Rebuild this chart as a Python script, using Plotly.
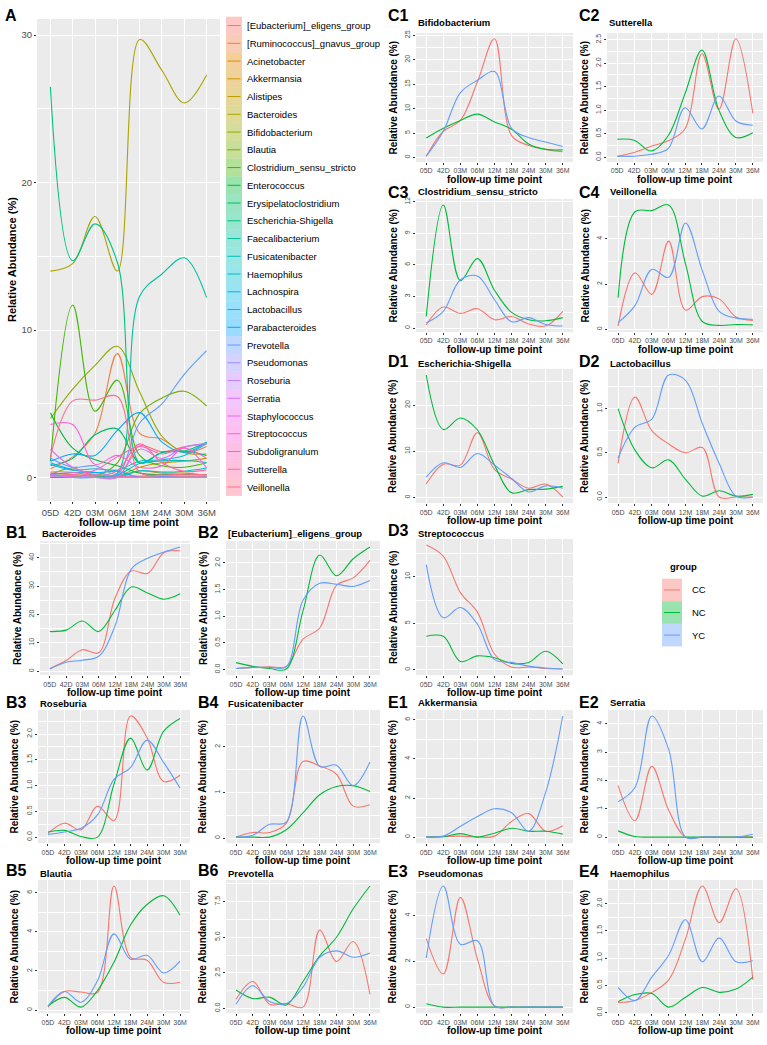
import math
import plotly.graph_objects as go

W, H = 767, 1045

# ---------------- data ----------------
time_full = ["05D", "42D", "03M", "06M", "12M", "18M", "24M", "30M", "36M"]
time_a = ["05D", "42D", "03M", "06M", "18M", "24M", "30M", "36M"]
groups = ["CC", "NC", "YC"]
group_colors = ["#F8766D", "#00BA38", "#619CFF"]

bacteroides_cc = [1.0, 3.8, 7.6, 6.5, 25.8, 35.3, 34.5, 41.8, 42.5]
bacteroides_nc = [14.0, 14.5, 17.7, 14.0, 21.5, 29.7, 27.6, 25.4, 27.3]
bacteroides_yc = [0.8, 3.2, 3.9, 5.3, 15.9, 36.0, 39.8, 42.0, 43.8]

eligens_cc = [0.02, 0.04, 0.05, 0.06, 0.57, 0.78, 1.58, 1.72, 2.05]
eligens_nc = [0.13, 0.06, 0.02, 0.01, 1.1, 2.15, 1.76, 2.08, 2.3]
eligens_yc = [0.02, 0.04, 0.04, 0.05, 1.3, 1.62, 1.6, 1.56, 1.67]

roseburia_cc = [0.07, 0.27, 0.14, 0.6, 0.32, 2.35, 1.93, 1.08, 1.2]
roseburia_nc = [0.1, 0.13, 0.01, 0.0, 1.03, 1.92, 1.3, 2.05, 2.3]
roseburia_yc = [0.05, 0.1, 0.17, 0.43, 1.12, 1.35, 1.88, 1.45, 0.95]

fusicatenibacter_cc = [0.02, 0.12, 0.12, 0.32, 1.68, 1.58, 1.4, 0.7, 0.73]
fusicatenibacter_nc = [0.02, 0.02, 0.02, 0.18, 0.55, 0.95, 1.13, 1.15, 1.02]
fusicatenibacter_yc = [0.02, 0.06, 0.3, 0.35, 2.68, 1.57, 1.6, 1.15, 1.67]

blautia_cc = [0.15, 0.95, 0.92, 0.9, 6.35, 2.7, 2.55, 1.42, 1.42]
blautia_nc = [0.2, 0.65, 0.15, 1.0, 2.45, 4.35, 5.4, 5.85, 4.85]
blautia_yc = [0.2, 0.95, 0.4, 1.5, 3.9, 2.6, 2.8, 1.9, 2.5]

prevotella_cc = [0.65, 1.9, 0.3, 0.35, 0.1, 5.5, 3.3, 4.7, 1.0]
prevotella_nc = [1.3, 0.7, 0.8, 0.25, 1.9, 3.7, 5.0, 7.0, 8.6]
prevotella_yc = [0.3, 1.6, 0.5, 0.35, 1.5, 3.6, 4.05, 3.6, 3.9]

bifido_cc = [0.3, 5.4, 7.6, 15.5, 24.3, 4.5, 2.5, 1.7, 1.2]
bifido_nc = [4.0, 6.0, 7.6, 8.9, 7.3, 5.8, 2.8, 1.7, 1.6]
bifido_yc = [0.3, 5.4, 13.3, 15.8, 17.6, 6.0, 4.1, 3.2, 2.3]

sutterella_cc = [0.02, 0.1, 0.23, 0.35, 0.6, 2.2, 1.02, 2.52, 0.93]
sutterella_nc = [0.38, 0.36, 0.13, 0.45, 1.35, 2.28, 1.0, 0.42, 0.52]
sutterella_yc = [0.02, 0.02, 0.06, 0.18, 1.05, 0.6, 1.3, 0.77, 0.68]

clostridium_cc = [0.3, 2.0, 1.4, 1.85, 0.8, 1.1, 0.4, 0.2, 1.6]
clostridium_nc = [1.1, 11.7, 4.5, 6.6, 3.6, 1.5, 0.8, 0.7, 1.0]
clostridium_yc = [0.5, 1.6, 4.6, 4.95, 2.7, 0.6, 1.0, 0.35, 0.2]

veillonella_cc = [0.15, 2.5, 1.55, 3.9, 0.85, 1.45, 1.35, 0.55, 0.4]
veillonella_nc = [1.4, 5.2, 5.25, 5.5, 2.9, 0.35, 0.18, 0.22, 0.2]
veillonella_yc = [0.3, 1.05, 2.65, 2.3, 4.7, 2.6, 0.8, 0.5, 0.45]

escherichia_cc = [2.9, 7.2, 7.0, 14.0, 6.0, 4.0, 2.0, 2.9, 0.1]
escherichia_nc = [26.5, 14.7, 17.2, 14.6, 7.0, 1.0, 1.7, 1.8, 2.4]
escherichia_yc = [4.4, 7.5, 6.5, 9.5, 7.0, 4.1, 1.2, 2.5, 2.0]

lactobacillus_cc = [0.38, 1.13, 0.75, 0.6, 0.5, 0.56, 0.0, 0.0, 0.0]
lactobacillus_nc = [1.0, 0.53, 0.33, 0.42, 0.2, 0.01, 0.07, 0.01, 0.03]
lactobacillus_yc = [0.44, 0.79, 0.88, 1.38, 1.32, 0.83, 0.38, 0.01, 0.0]

streptococcus_cc = [13.4, 12.2, 8.3, 6.2, 1.7, 0.3, 0.3, 0.15, 0.1]
streptococcus_nc = [3.6, 3.6, 0.9, 1.5, 1.3, 0.7, 0.8, 2.0, 0.65]
streptococcus_yc = [11.3, 5.6, 6.7, 4.9, 1.1, 0.8, 0.4, 0.2, 0.1]

akkermansia_cc = [0.02, 0.02, 0.05, 0.0, 0.05, 0.8, 1.2, 0.3, 0.58]
akkermansia_nc = [0.0, 0.02, 0.18, 0.0, 0.2, 0.45, 0.3, 0.3, 0.15]
akkermansia_yc = [0.02, 0.05, 0.55, 1.05, 1.45, 1.25, 0.3, 2.3, 6.2]

serratia_cc = [1.82, 0.58, 2.5, 0.95, 0.0, 0.0, 0.0, 0.0, 0.0]
serratia_nc = [0.22, 0.02, 0.0, 0.0, 0.0, 0.0, 0.0, 0.0, 0.0]
serratia_yc = [1.25, 1.75, 4.28, 3.1, 0.0, 0.0, 0.0, 0.0, 0.1]

pseudomonas_cc = [3.0, 1.45, 4.8, 2.1, 0.05, 0.0, 0.0, 0.0, 0.0]
pseudomonas_nc = [0.15, 0.0, 0.0, 0.0, 0.0, 0.0, 0.0, 0.0, 0.0]
pseudomonas_yc = [2.15, 5.3, 2.75, 2.9, 0.05, 0.0, 0.0, 0.0, 0.0]

haemophilus_cc = [0.18, 0.22, 0.37, 0.6, 1.35, 2.32, 1.65, 2.27, 0.6]
haemophilus_nc = [0.2, 0.33, 0.35, 0.1, 0.28, 0.46, 0.37, 0.43, 0.65]
haemophilus_yc = [0.46, 0.22, 0.65, 1.05, 1.7, 0.93, 1.37, 0.93, 0.95]

# panel A genera without their own panel (values at time_a)
ruminococcus_a = [0.6, 1.4, 3.0, 8.4, 3.0, 2.6, 1.7, 2.1]
acinetobacter_a = [0.3, 0.2, 0.1, 0.05, 0.05, 0.05, 0.05, 0.05]
alistipes_a = [0.0, 0.0, 0.02, 0.1, 0.7, 1.0, 1.1, 1.3]
enterococcus_a = [4.4, 2.0, 1.2, 0.8, 0.3, 0.2, 0.2, 0.2]
erysipelato_a = [0.8, 1.3, 2.9, 3.3, 1.0, 1.7, 1.8, 1.5]
faecalibacterium_a = [0.0, 0.0, 0.02, 0.3, 12.3, 13.8, 14.9, 12.2]
lachnospira_a = [0.9, 0.5, 0.6, 0.5, 1.1, 1.2, 1.5, 2.3]
parabacteroides_a = [1.1, 1.6, 1.5, 3.2, 4.4, 2.4, 1.7, 2.4]
staphylococcus_a = [1.9, 0.7, 0.2, 0.1, 0.1, 0.1, 0.1, 0.1]
subdoligranulum_a = [0.1, 0.2, 0.5, 1.4, 2.1, 1.6, 2.0, 1.3]

genera = ["[Eubacterium]_eligens_group", "[Ruminococcus]_gnavus_group", "Acinetobacter",
          "Akkermansia", "Alistipes", "Bacteroides", "Bifidobacterium", "Blautia",
          "Clostridium_sensu_stricto", "Enterococcus", "Erysipelatoclostridium",
          "Escherichia-Shigella", "Faecalibacterium", "Fusicatenibacter", "Haemophilus",
          "Lachnospira", "Lactobacillus", "Parabacteroides", "Prevotella", "Pseudomonas",
          "Roseburia", "Serratia", "Staphylococcus", "Streptococcus", "Subdoligranulum",
          "Sutterella", "Veillonella"]

# y tick labels per panel
ticks_40 = ["0", "10", "20", "30", "40"]
ticks_2_half = ["0.0", "0.5", "1.0", "1.5", "2.0"]
ticks_2_int = ["0", "1", "2"]
ticks_6 = ["0", "2", "4", "6"]
ticks_75 = ["0.0", "2.5", "5.0", "7.5"]
ticks_25 = ["0", "5", "10", "15", "20", "25"]
ticks_25_half = ["0.0", "0.5", "1.0", "1.5", "2.0", "2.5"]
ticks_12 = ["0", "3", "6", "9", "12"]
ticks_4_even = ["0", "2", "4"]
ticks_20 = ["0", "10", "20"]
ticks_1 = ["0.0", "0.5", "1.0"]
ticks_10 = ["0", "5", "10"]
ticks_4 = ["0", "1", "2", "3", "4"]
ticks_a = ["0", "10", "20", "30"]


# ---------------- helpers ----------------
def hcl_hex(h, c, l):
    hr = math.radians(h)
    u, v = c * math.cos(hr), c * math.sin(hr)
    Xn, Yn, Zn = 95.047, 100.0, 108.883
    den = Xn + 15 * Yn + 3 * Zn
    un, vn = 4 * Xn / den, 9 * Yn / den
    Y = Yn * ((l + 16) / 116) ** 3 if l > 8 else Yn * l / 903.3
    up = u / (13 * l) + un
    vp = v / (13 * l) + vn
    X = 9 * Y * up / (4 * vp)
    Z = (9 * Y / vp - X - 15 * Y) / 3
    X, Y, Z = X / 100, Y / 100, Z / 100
    rl = 3.240479 * X - 1.537150 * Y - 0.498535 * Z
    gl = -0.969256 * X + 1.875992 * Y + 0.041556 * Z
    bl = 0.055648 * X - 0.204043 * Y + 1.057311 * Z

    def g(t):
        t = 12.92 * t if t <= 0.0031308 else 1.055 * t ** (1 / 2.4) - 0.055
        return max(0, min(255, round(t * 255)))
    return "#%02X%02X%02X" % (g(rl), g(gl), g(bl))


def rgba(hx, a):
    return "rgba(%d,%d,%d,%.2f)" % (int(hx[1:3], 16), int(hx[3:5], 16), int(hx[5:7], 16), a)


n_gen = len(genera)
genus_colors = [hcl_hex(15 + i * 360 / n_gen, 100, 65) for i in range(n_gen)]

panel_nc = {
    "[Eubacterium]_eligens_group": eligens_nc, "Bacteroides": bacteroides_nc,
    "Bifidobacterium": bifido_nc, "Blautia": blautia_nc,
    "Clostridium_sensu_stricto": clostridium_nc, "Escherichia-Shigella": escherichia_nc,
    "Fusicatenibacter": fusicatenibacter_nc, "Haemophilus": haemophilus_nc,
    "Lactobacillus": lactobacillus_nc, "Prevotella": prevotella_nc,
    "Pseudomonas": pseudomonas_nc, "Roseburia": roseburia_nc, "Serratia": serratia_nc,
    "Streptococcus": streptococcus_nc, "Sutterella": sutterella_nc,
    "Veillonella": veillonella_nc, "Akkermansia": akkermansia_nc,
}
extra_a = {
    "[Ruminococcus]_gnavus_group": ruminococcus_a, "Acinetobacter": acinetobacter_a,
    "Alistipes": alistipes_a, "Enterococcus": enterococcus_a,
    "Erysipelatoclostridium": erysipelato_a, "Faecalibacterium": faecalibacterium_a,
    "Lachnospira": lachnospira_a, "Parabacteroides": parabacteroides_a,
    "Staphylococcus": staphylococcus_a, "Subdoligranulum": subdoligranulum_a,
}


def a_values(g):
    if g in panel_nc:
        v = panel_nc[g]
        return [v[i] for i, t in enumerate(time_full) if t in time_a]
    return extra_a[g]


FONT = "Liberation Sans, Arial, sans-serif"
fig = go.Figure()
annotations = []
shapes = []


def px_x(p):
    return p / W


def px_y(p):
    return 1 - p / H


def add_axes(k, box, cats, tick_labels, yrange, rot, tfont):
    l, t, r, b = box
    sx = "" if k == 1 else str(k)
    tv = [float(s) for s in tick_labels]
    step = tv[1] - tv[0]
    minors = [v + step / 2 for v in [tv[0] - step] + tv]
    fig.layout["xaxis" + sx] = dict(
        domain=[px_x(l), px_x(r)], anchor="y" + sx, type="category",
        categoryorder="array", categoryarray=cats, range=[-0.6, len(cats) - 0.4],
        tickmode="array", tickvals=cats, ticktext=cats, tickangle=0,
        showgrid=True, gridcolor="white", gridwidth=1.1, zeroline=False,
        ticks="outside", ticklen=2, tickwidth=0.8, tickcolor="#333333",
        tickfont=dict(family=FONT, size=tfont, color="#4D4D4D"), showline=False,
        fixedrange=True)
    fig.layout["yaxis" + sx] = dict(
        domain=[px_y(b), px_y(t)], anchor="x" + sx, range=yrange,
        tickmode="array", tickvals=tv, ticktext=tick_labels,
        showgrid=True, gridcolor="white", gridwidth=1.1, zeroline=False,
        minor=dict(tickmode="array", tickvals=minors, showgrid=True,
                   gridcolor="white", gridwidth=0.5, ticks=""),
        ticks="outside", ticklen=2, tickwidth=0.8, tickcolor="#333333",
        tickangle=-90 if rot else 0,
        tickfont=dict(family=FONT, size=tfont, color="#4D4D4D"), showline=False,
        fixedrange=True)
    return "x" + sx, "y" + sx


def yrange_of(series):
    allv = [v for s in series for v in s]
    lo, hi = min(allv), max(allv)
    span = hi - lo
    return [lo - 0.05 * span, hi + 0.05 * span]


# ---------------- panel A ----------------
boxA = (37, 16, 220, 501)
a_series = [a_values(g) for g in genera]
xa, ya = add_axes(1, boxA, time_a, ticks_a, [-1.6, 31.1], False, 9.5)
for g, col, vals in zip(genera, genus_colors, a_series):
    fig.add_trace(go.Scatter(x=time_a, y=vals, mode="lines", name=g,
                             line=dict(color=col, width=1.1, shape="spline", smoothing=1.0),
                             xaxis=xa, yaxis=ya, showlegend=False, hoverinfo="skip"))
annotations += [
    dict(x=px_x(3), y=px_y(13), text="<b>A</b>", xanchor="left", yanchor="middle",
         font=dict(size=16, color="black")),
    dict(x=px_x(12), y=px_y((boxA[1] + boxA[3]) / 2), text="<b>Relative Abundance (%)</b>",
         textangle=-90, xanchor="center", yanchor="middle", font=dict(size=11, color="black")),
    dict(x=px_x((boxA[0] + boxA[2]) / 2), y=px_y(boxA[3] + 21),
         text="<b>follow-up time point</b>", xanchor="center", yanchor="middle",
         font=dict(size=10.5, color="black")),
]
# legend for panel A (manual, ggplot-style keys)
leg_top, leg_step = 22.7, 17.85
for i, (g, col) in enumerate(zip(genera, genus_colors)):
    cy = leg_top + i * leg_step
    shapes.append(dict(type="rect", xref="paper", yref="paper",
                       x0=px_x(226), x1=px_x(242), y0=px_y(cy + leg_step / 2), y1=px_y(cy - leg_step / 2),
                       fillcolor=rgba(col, 0.4), line=dict(width=0)))
    shapes.append(dict(type="line", xref="paper", yref="paper",
                       x0=px_x(227.5), x1=px_x(240.5), y0=px_y(cy), y1=px_y(cy),
                       line=dict(color=col, width=1)))
    annotations.append(dict(x=px_x(245), y=px_y(cy), text=g, xanchor="left", yanchor="middle",
                            font=dict(size=9.5, color="black")))

# ---------------- small panels ----------------
C3L, C4L = 4, 196
C3R, C4R = 386, 577
panels = [
    # label, title, series, ticks, box, label_x, label_y, title_y
    ("B1", "Bacteroides", [bacteroides_cc, bacteroides_nc, bacteroides_yc], ticks_40, (40, 541, 190, 676), C3L, 533, 534),
    ("B2", "[Eubacterium]_eligens_group", [eligens_cc, eligens_nc, eligens_yc], ticks_2_half, (226, 541, 380, 676), C4L, 533, 534),
    ("B3", "Roseburia", [roseburia_cc, roseburia_nc, roseburia_yc], ticks_2_half, (38, 711, 190, 845), C3L, 704, 705),
    ("B4", "Fusicatenibacter", [fusicatenibacter_cc, fusicatenibacter_nc, fusicatenibacter_yc], ticks_2_int, (226, 711, 380, 845), C4L, 704, 705),
    ("B5", "Blautia", [blautia_cc, blautia_nc, blautia_yc], ticks_6, (38, 882, 190, 1016), C3L, 873, 876),
    ("B6", "Prevotella", [prevotella_cc, prevotella_nc, prevotella_yc], ticks_75, (226, 882, 380, 1016), C4L, 873, 876),
    ("C1", "Bifidobacterium", [bifido_cc, bifido_nc, bifido_yc], ticks_25, (416, 30, 573, 160), C3R, 13, 20),
    ("C2", "Sutterella", [sutterella_cc, sutterella_nc, sutterella_yc], ticks_25_half, (607, 30, 763, 160), C4R, 13, 20),
    ("C3", "Clostridium_sensu_stricto", [clostridium_cc, clostridium_nc, clostridium_yc], ticks_12, (416, 197, 573, 331), C3R, 191, 190),
    ("C4", "Veillonella", [veillonella_cc, veillonella_nc, veillonella_yc], ticks_4_even, (608, 197, 763, 331), C4R, 191, 190),
    ("D1", "Escherichia-Shigella", [escherichia_cc, escherichia_nc, escherichia_yc], ticks_20, (416, 368, 573, 503), C3R, 361, 363),
    ("D2", "Lactobacillus", [lactobacillus_cc, lactobacillus_nc, lactobacillus_yc], ticks_1, (608, 368, 763, 503), C4R, 361, 363),
    ("D3", "Streptococcus", [streptococcus_cc, streptococcus_nc, streptococcus_yc], ticks_10, (416, 539, 573, 676), C3R, 531, 534),
    ("E1", "Akkermansia", [akkermansia_cc, akkermansia_nc, akkermansia_yc], ticks_6, (416, 711, 573, 845), C3R, 704, 704),
    ("E2", "Serratia", [serratia_cc, serratia_nc, serratia_yc], ticks_4, (608, 711, 763, 845), C4R, 704, 704),
    ("E3", "Pseudomonas", [pseudomonas_cc, pseudomonas_nc, pseudomonas_yc], ticks_4_even, (416, 882, 573, 1016), C3R, 874, 876),
    ("E4", "Haemophilus", [haemophilus_cc, haemophilus_nc, haemophilus_yc], ticks_2_half, (608, 882, 763, 1016), C4R, 874, 876),
]

for idx, (lab, title, series, tl, box, lx, ly, ty) in enumerate(panels):
    k = idx + 2
    l, t, r, b = box
    xs, ys = add_axes(k, box, time_full, tl, yrange_of(series), True, 7)
    for vals, col, gname in zip(series, group_colors, groups):
        fig.add_trace(go.Scatter(x=time_full, y=vals, mode="lines", name=gname,
                                 line=dict(color=col, width=1.1, shape="spline", smoothing=1.0),
                                 xaxis=xs, yaxis=ys, showlegend=False, hoverinfo="skip"))
    annotations += [
        dict(x=px_x(lx), y=px_y(ly), text="<b>%s</b>" % lab, xanchor="left", yanchor="middle",
             font=dict(size=16, color="black")),
        dict(x=px_x(l), y=px_y(ty), text="<b>%s</b>" % title, xanchor="left", yanchor="middle",
             font=dict(size=9.5, color="black")),
        dict(x=px_x(l - 23), y=px_y((t + b) / 2), text="<b>Relative Abundance (%)</b>",
             textangle=-90, xanchor="center", yanchor="middle", font=dict(size=10, color="black")),
        dict(x=px_x((l + r) / 2), y=px_y(b + 17.5), text="<b>follow-up time point</b>",
             xanchor="center", yanchor="middle", font=dict(size=10, color="black")),
    ]

# ---------------- group legend ----------------
annotations.append(dict(x=px_x(683), y=px_y(567), text="<b>group</b>", xanchor="center",
                        yanchor="middle", font=dict(size=9.5, color="black")))
for i, (gname, col) in enumerate(zip(groups, group_colors)):
    y0 = 579 + i * 22.7
    shapes.append(dict(type="rect", xref="paper", yref="paper",
                       x0=px_x(662), x1=px_x(682), y0=px_y(y0 + 22.7), y1=px_y(y0),
                       fillcolor=rgba(col, 0.4), line=dict(width=0)))
    shapes.append(dict(type="line", xref="paper", yref="paper",
                       x0=px_x(664), x1=px_x(680), y0=px_y(y0 + 11.35), y1=px_y(y0 + 11.35),
                       line=dict(color=col, width=1)))
    annotations.append(dict(x=px_x(690), y=px_y(y0 + 11.35), text=gname, xanchor="left",
                            yanchor="middle", font=dict(size=9.5, color="black")))

for a in annotations:
    a.setdefault("xref", "paper")
    a.setdefault("yref", "paper")
    a.setdefault("showarrow", False)

fig.update_layout(
    width=W, height=H, margin=dict(l=0, r=0, t=0, b=0),
    paper_bgcolor="white", plot_bgcolor="#EBEBEB",
    font=dict(family=FONT, color="black"),
    annotations=annotations, shapes=shapes, showlegend=False,
)

fig.write_html("out.html")
